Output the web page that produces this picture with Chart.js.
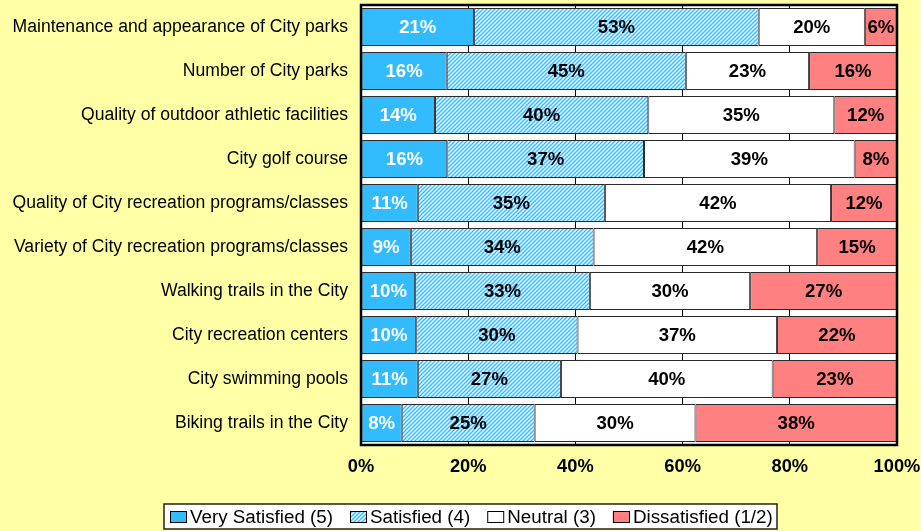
<!DOCTYPE html>
<html>
<head>
<meta charset="utf-8">
<script src="https://cdn.jsdelivr.net/npm/chart.js@4.4.1/dist/chart.umd.min.js"></script>
<style>
html, body { margin: 0; padding: 0; background: #FFFFA6; }
#wrap { width: 921px; height: 531px; }
</style>
</head>
<body>
<div id="wrap"><canvas id="chart"></canvas></div>
<script>
const categories = [
    'Maintenance and appearance of City parks',
    'Number of City parks',
    'Quality of outdoor athletic facilities',
    'City golf course',
    'Quality of City recreation programs/classes',
    'Variety of City recreation programs/classes',
    'Walking trails in the City',
    'City recreation centers',
    'City swimming pools',
    'Biking trails in the City'
];
const verySatisfied = [21.1, 16.0, 13.8, 16.1, 10.6, 9.3, 10.1, 10.3, 10.6, 7.6];
const satisfied     = [53.1, 44.6, 39.8, 36.7, 34.9, 34.1, 32.6, 30.1, 26.7, 24.8];
const neutral       = [19.8, 23.0, 34.7, 39.3, 42.2, 41.7, 29.9, 37.2, 39.5, 30.0];
const dissatisfied  = [6.0, 16.4, 11.7, 7.9, 12.3, 14.9, 27.4, 22.4, 23.2, 37.6];
const seriesNames = ['Very Satisfied (5)', 'Satisfied (4)', 'Neutral (3)', 'Dissatisfied (1/2)'];
const xTicks = [0, 20, 40, 60, 80, 100];

const FONT = '"Liberation Sans", Arial, sans-serif';
const BLUE = '#33BBFF';
const SALMON = '#FF8080';

// diagonal hatch for "Satisfied"
function makeHatch() {
    const p = document.createElement('canvas');
    p.width = 4; p.height = 4;
    const g = p.getContext('2d');
    g.fillStyle = '#fff';
    g.fillRect(0, 0, 4, 4);
    g.strokeStyle = BLUE;
    g.lineWidth = 1.5;
    g.beginPath();
    g.moveTo(0, 4); g.lineTo(4, 0);
    g.moveTo(-1, 1); g.lineTo(1, -1);
    g.moveTo(3, 5); g.lineTo(5, 3);
    g.stroke();
    return g.createPattern(p, 'repeat');
}
const hatch = makeHatch();
const fills = [BLUE, hatch, '#FFFFFF', SALMON];
const labelColors = ['#FFFFFF', '#000000', '#000000', '#000000'];

const plotFrame = {
    id: 'plotFrame',
    beforeDraw(chart) {
        const a = chart.chartArea, ctx = chart.ctx;
        ctx.save();
        ctx.fillStyle = '#FFFFFF';
        ctx.fillRect(a.left, a.top, a.right - a.left, a.bottom - a.top);
        ctx.restore();
    },
    afterDatasetsDraw(chart) {
        const a = chart.chartArea, ctx = chart.ctx;
        ctx.save();
        // value labels
        ctx.font = 'bold 18.6px ' + FONT;
        ctx.textAlign = 'center';
        ctx.textBaseline = 'middle';
        chart.data.datasets.forEach((ds, i) => {
            ctx.fillStyle = labelColors[i];
            chart.getDatasetMeta(i).data.forEach((bar, j) => {
                const v = Math.round(ds.data[j]);
                ctx.fillText(v + '%', (bar.x + bar.base) / 2, bar.y + 1);
            });
        });
        // frame
        ctx.strokeStyle = '#000';
        ctx.lineWidth = 2.5;
        ctx.strokeRect(a.left, a.top, a.right - a.left, a.bottom - a.top);
        ctx.restore();
    },
    afterDraw(chart) {
        // boxed legend under the plot
        const ctx = chart.ctx;
        ctx.save();
        ctx.font = '18.8px ' + FONT;
        ctx.textBaseline = 'middle';
        ctx.fillStyle = '#FFFFFF';
        ctx.fillRect(164, 504, 613, 25);
        ctx.strokeStyle = '#222';
        ctx.lineWidth = 1.5;
        ctx.strokeRect(164, 504, 613, 25);
        let x = 170;
        seriesNames.forEach((name, i) => {
            ctx.fillStyle = fills[i];
            ctx.fillRect(x, 511.5, 16, 11);
            ctx.strokeStyle = '#000';
            ctx.lineWidth = 1;
            ctx.strokeRect(x + 0.5, 511.5, 16, 11);
            ctx.fillStyle = '#000';
            ctx.fillText(name, x + 20, 517.5);
            x += 20 + ctx.measureText(name).width + 17;
        });
        ctx.restore();
    }
};

const datasets = [verySatisfied, satisfied, neutral, dissatisfied].map((d, i) => ({
    label: seriesNames[i],
    data: d,
    backgroundColor: fills[i],
    borderColor: '#2a2a2a',
    borderWidth: 1,
    borderSkipped: false,
    barPercentage: 0.86,
    categoryPercentage: 1
}));

new Chart(document.getElementById('chart'), {
    type: 'bar',
    data: { labels: categories, datasets: datasets },
    options: {
        indexAxis: 'y',
        responsive: true,
        maintainAspectRatio: false,
        animation: false,
        layout: { padding: { top: 5, right: 24, bottom: 46, left: 0 } },
        plugins: {
            legend: { display: false },
            tooltip: { enabled: false }
        },
        scales: {
            x: {
                stacked: true,
                min: 0,
                max: 100,
                afterBuildTicks: (s) => { s.ticks = xTicks.map(v => ({ value: v })); },
                afterFit: (s) => { s.height = 40; s.paddingLeft = 0; s.paddingRight = 0; },
                grid: { color: '#000', lineWidth: 1, drawTicks: false },
                border: { display: false },
                ticks: {
                    padding: 11,
                    color: '#000',
                    font: { family: FONT, size: 18.3, weight: 'bold' },
                    callback: (v) => v + '%'
                }
            },
            y: {
                stacked: true,
                afterFit: (s) => { s.width = 361; s.paddingTop = 0; s.paddingBottom = 0; },
                grid: { display: false },
                border: { display: false },
                ticks: {
                    padding: 5,
                    color: '#000',
                    font: { family: FONT, size: 17.6 }
                }
            }
        }
    },
    plugins: [plotFrame]
});
</script>
</body>
</html>
